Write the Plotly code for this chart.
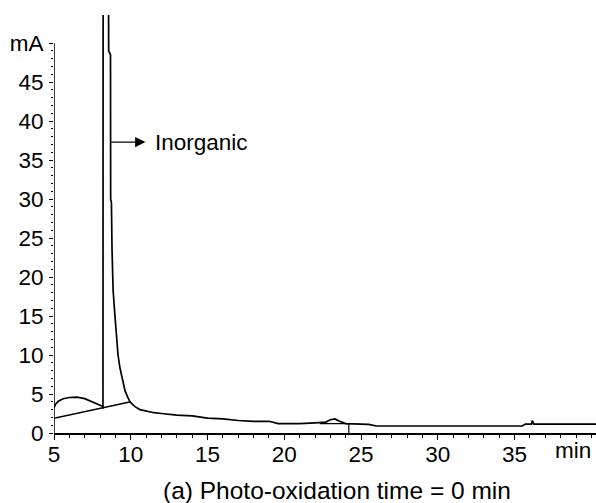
import plotly.graph_objects as go

# ---- data ----
time_min = [5.0, 5.1, 5.3, 5.6, 6.0, 6.5, 7.0, 7.5, 8.0, 8.19, 8.2, 8.55, 8.56, 8.68, 8.69, 8.74,
            8.78, 8.85, 8.97, 9.07, 9.17, 9.3, 9.43, 9.63, 9.8, 9.95, 10.15, 10.3, 10.6, 11.0,
            11.5, 12.0, 13.0, 14.0, 15.0,
            16.0, 17.0, 18.0, 19.0, 19.6, 21.0, 22.0, 22.7, 23.0, 23.3, 23.6, 24.0, 25.5, 26.0,
            30.0, 35.5, 35.7, 36.1, 36.15, 36.25, 40.3]
signal_mA = [3.2, 3.7, 4.1, 4.4, 4.55, 4.6, 4.4, 4.0, 3.6, 3.4, 60.0, 60.0, 49.0, 48.5, 30.0, 29.5,
             23.5, 18.3, 15.0, 12.3, 10.0, 8.3, 7.0, 5.4, 4.6, 4.0, 3.6, 3.35, 3.0, 2.8,
             2.6, 2.5, 2.3, 2.2, 1.9,
             1.8, 1.6, 1.5, 1.5, 1.2, 1.2, 1.3, 1.4, 1.7, 1.8, 1.5, 1.2, 1.1, 0.9,
             0.9, 0.9, 1.15, 1.15, 1.6, 1.15, 1.15]

# integration baseline and drop lines
base1_t = [5.0, 10.0]
base1_y = [1.9, 4.0]
drop1_t = [8.2, 8.2]
drop1_y = [3.1, 3.4]
base2_t = [22.3, 24.2, 24.2]
base2_y = [1.2, 1.2, 0.0]

y_ticks = [0, 5, 10, 15, 20, 25, 30, 35, 40, 45, 50]
y_ticktext = ["0", "5", "10", "15", "20", "25", "30", "35", "40", "45", "mA"]
x_ticks = [5, 10, 15, 20, 25, 30, 35]
x_unit = "min"
x_unit_pos = 38.8
label_text = "Inorganic"
arrow_from = (8.61, 37.3)
arrow_to = (10.96, 37.3)
caption = "(a) Photo-oxidation time = 0 min"

FONT = "Liberation Sans, Arial, sans-serif"
FS = 22.5
line = dict(color="black", width=1.5)

fig = go.Figure()
fig.add_trace(go.Scatter(x=time_min, y=signal_mA, mode="lines", line=dict(color="black", width=1.7),
                         hoverinfo="skip"))
fig.add_trace(go.Scatter(x=base1_t, y=base1_y, mode="lines", line=line, hoverinfo="skip"))
fig.add_trace(go.Scatter(x=drop1_t, y=drop1_y, mode="lines", line=line, hoverinfo="skip"))
fig.add_trace(go.Scatter(x=base2_t, y=base2_y, mode="lines", line=dict(color="black", width=1.2),
                         hoverinfo="skip"))

# y axis line only up to 50
fig.add_shape(type="line", xref="x", yref="y", x0=5, x1=5, y0=0, y1=50,
              line=dict(color="black", width=1.5))

fig.add_annotation(x=arrow_to[0], y=arrow_to[1], ax=arrow_from[0], ay=arrow_from[1],
                   xref="x", yref="y", axref="x", ayref="y", text="", showarrow=True,
                   arrowhead=2, arrowsize=1.6, arrowwidth=1.3, arrowcolor="black")
fig.add_annotation(x=11.67, y=arrow_to[1], xref="x", yref="y", text=label_text,
                   showarrow=False, xanchor="left", yanchor="middle", xshift=-3,
                   font=dict(family=FONT, size=FS, color="black"))
fig.add_annotation(x=x_unit_pos, y=0, xref="x", yref="y", text=x_unit, showarrow=False,
                   xanchor="center", yanchor="middle", yshift=-17,
                   font=dict(family=FONT, size=FS, color="black"))
fig.add_annotation(x=0.522, y=0, xref="paper", yref="paper", text=caption, showarrow=False,
                   xanchor="center", yanchor="middle", yshift=-57,
                   font=dict(family=FONT, size=24.5, color="black"))

fig.update_layout(
    width=596, height=503,
    margin=dict(l=54, r=0, t=15, b=70, autoexpand=False),
    paper_bgcolor="white", plot_bgcolor="white",
    showlegend=False,
    font=dict(family=FONT, size=FS, color="black"),
)
fig.update_xaxes(range=[5, 40.3], tickvals=x_ticks, ticks="outside", ticklen=5, tickwidth=1.3,
                 tickcolor="black", showline=True, linecolor="black", linewidth=1.5,
                 showgrid=False, zeroline=False, ticklabelstandoff=-5, automargin=False,
                 minor=dict(tickvals=list(range(5, 41)), ticks="outside", ticklen=3,
                            tickwidth=1, tickcolor="black", showgrid=False))
fig.update_yaxes(range=[0, 53.6], tickvals=y_ticks, ticktext=y_ticktext, ticks="outside",
                 ticklen=4, tickwidth=1.3, tickcolor="black", showline=False,
                 showgrid=False, zeroline=False, ticklabelstandoff=1, automargin=False,
                 minor=dict(tickvals=list(range(0, 51)), ticks="outside", ticklen=2,
                            tickwidth=1, tickcolor="black", showgrid=False))

fig.write_html("out.html", config={"displayModeBar": False},
               post_script="document.body.style.margin='0';document.body.style.overflow='hidden';")
